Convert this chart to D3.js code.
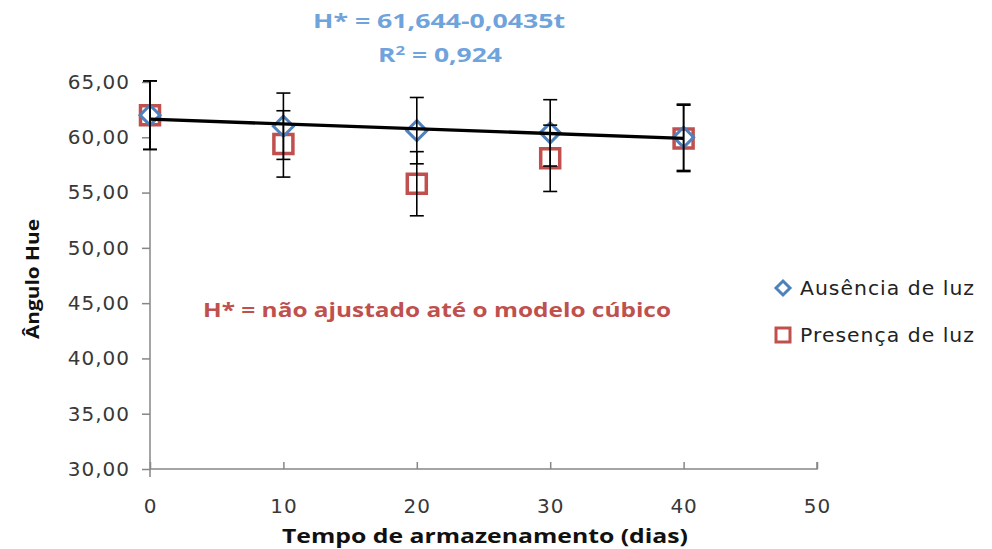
<!DOCTYPE html>
<html>
<head>
<meta charset="utf-8">
<script src="https://cdn.jsdelivr.net/npm/d3@7"></script>
<style>
  body { margin: 0; background: #fff; }
  svg { display: block; }
  .tick-label { font-family: "DejaVu Sans", Verdana, sans-serif; font-size: 20px; fill: #383838; letter-spacing: 1px; }
  .bold-title { font-family: "Open Sans", sans-serif; font-weight: bold; font-size: 20px; fill: #111; }
</style>
</head>
<body>
<div id="chart"></div>
<script>
var tempo = [0, 10, 20, 30, 40];
var ausencia = [62.0, 61.0, 60.6, 60.4, 60.0];
var ausenciaErro = [3.1, 3.0, 3.0, 3.0, 3.0];
var presenca = [62.0, 59.4, 55.8, 58.1, 59.9];
var presencaErro = [3.1, 3.0, 2.9, 3.0, 3.0];
var xTicks = [0, 10, 20, 30, 40, 50];
var yTicks = [30, 35, 40, 45, 50, 55, 60, 65];
var fit = { a: 61.644, b: -0.0435, r2: "0,924" };

var width = 992, height = 549;
var blue = "#4F81BD", red = "#C0504D", axisGray = "#868686";

var svg = d3.select("#chart")
   .append("svg")
   .attr("width", width)
   .attr("height", height);

var x = d3.scaleLinear().domain([0, 50]).range([150, 817]);
var y = d3.scaleLinear().domain([30, 65]).range([469, 82]);

var fmt = function(d) { return d3.format(".2f")(d).replace(".", ","); };

// axes
var yAxis = svg.append("g")
   .attr("transform", "translate(" + x(0) + ",0)")
   .call(d3.axisLeft(y).tickValues(yTicks).tickSize(8).tickPadding(12).tickFormat(fmt));

var xAxis = svg.append("g")
   .attr("transform", "translate(0," + y(30) + ")")
   .call(d3.axisBottom(x).tickValues(xTicks).tickSize(-7).tickPadding(30).tickFormat(d3.format("d")));

[yAxis, xAxis].forEach(function(ax) {
   ax.select(".domain").attr("stroke", axisGray).attr("stroke-width", 1.5);
   ax.selectAll(".tick line").attr("stroke", axisGray).attr("stroke-width", 1.5);
   ax.selectAll(".tick text").attr("class", "tick-label").attr("font-size", null).attr("font-family", null);
});
xAxis.select(".domain").attr("d", "M" + x(0) + ",0H" + x(50) + "V-7");
yAxis.select(".domain").attr("d", "M0," + (y(30) + 8) + "V" + y(65));

// markers
function diamondPath(r) { return "M0," + (-r) + "L" + r + ",0L0," + r + "L" + (-r) + ",0Z"; }
function squarePath(s) { var h = s / 2; return "M" + (-h) + "," + (-h) + "H" + h + "V" + h + "H" + (-h) + "Z"; }

svg.append("g").selectAll("path")
   .data(tempo)
   .enter().append("path")
   .attr("transform", function(d, i) { return "translate(" + x(d) + "," + y(presenca[i]) + ")"; })
   .attr("d", squarePath(19))
   .attr("fill", "none")
   .attr("stroke", red)
   .attr("stroke-width", 3.5);

svg.append("g").selectAll("path")
   .data(tempo)
   .enter().append("path")
   .attr("transform", function(d, i) { return "translate(" + x(d) + "," + y(ausencia[i]) + ")"; })
   .attr("d", diamondPath(10))
   .attr("fill", "none")
   .attr("stroke", blue)
   .attr("stroke-width", 3);

// error bars
function errorBars(values, errs) {
   var g = svg.append("g").attr("stroke", "#000").attr("stroke-width", 1.6);
   tempo.forEach(function(t, i) {
      var cx = x(t), top = y(values[i] + errs[i]), bot = y(values[i] - errs[i]);
      g.append("line").attr("x1", cx).attr("x2", cx).attr("y1", top).attr("y2", bot);
      g.append("line").attr("x1", cx - 7).attr("x2", cx + 7).attr("y1", top).attr("y2", top);
      g.append("line").attr("x1", cx - 7).attr("x2", cx + 7).attr("y1", bot).attr("y2", bot);
   });
}
errorBars(ausencia, ausenciaErro);
errorBars(presenca, presencaErro);

// trend line
var line = d3.line()
   .x(function(d) { return x(d); })
   .y(function(d) { return y(fit.a + fit.b * d); });

svg.append("path")
   .datum([0, 40])
   .attr("d", line)
   .attr("fill", "none")
   .attr("stroke", "#000")
   .attr("stroke-width", 3.4);

// annotations
function label(txt, cx, by, len, color, size) {
   return svg.append("text")
      .attr("class", "bold-title")
      .attr("x", cx)
      .attr("y", by)
      .attr("text-anchor", "middle")
      .attr("textLength", len)
      .attr("lengthAdjust", "spacingAndGlyphs")
      .style("font-size", size + "px")
      .style("fill", color)
      .text(txt);
}

label("H* = 61,644-0,0435t", 439, 28, 252, "#6FA3DC", 19);
var r2 = svg.append("text")
   .attr("class", "bold-title")
   .attr("x", 440).attr("y", 62)
   .attr("text-anchor", "middle")
   .attr("textLength", 124)
   .attr("lengthAdjust", "spacingAndGlyphs")
   .style("font-size", "19px")
   .style("fill", "#6FA3DC");
r2.append("tspan").text("R");
r2.append("tspan").attr("dy", -7).style("font-size", "12px").text("2");
r2.append("tspan").attr("dy", 7).text(" = " + fit.r2);

label("H* = não ajustado até o modelo cúbico", 437, 317, 468, red, 19);
label("Tempo de armazenamento (dias)", 485, 543, 406, "#111", 20);

svg.append("text")
   .attr("class", "bold-title")
   .attr("transform", "translate(39,279) rotate(-90)")
   .attr("text-anchor", "middle")
   .attr("textLength", 120)
   .attr("lengthAdjust", "spacingAndGlyphs")
   .style("font-size", "17px")
   .text("Ângulo Hue");

// legend
var legend = svg.append("g").attr("class", "legend");
var items = [
   { name: "Ausência de luz", d: diamondPath(7), color: blue, y: 288 },
   { name: "Presença de luz", d: squarePath(14), color: red, y: 335 }
];
var li = legend.selectAll("g").data(items).enter().append("g")
   .attr("transform", function(d) { return "translate(783," + d.y + ")"; });
li.append("path")
   .attr("d", function(d) { return d.d; })
   .attr("fill", "none")
   .attr("stroke", function(d) { return d.color; })
   .attr("stroke-width", 3);
li.append("text")
   .attr("class", "tick-label")
   .attr("x", 17)
   .attr("dy", "0.36em")
   .attr("textLength", 175)
   .attr("lengthAdjust", "spacingAndGlyphs")
   .style("fill", "#222")
   .text(function(d) { return d.name; });
</script>
</body>
</html>
